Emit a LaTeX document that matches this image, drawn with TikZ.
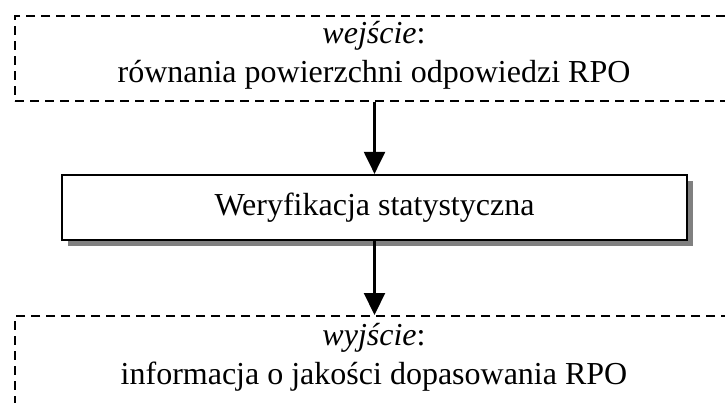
\documentclass[tikz,border=0pt]{standalone}
\usepackage{fontspec}
\setmainfont{Liberation Serif}
\usetikzlibrary{arrows.meta,shadows}
\begin{document}
\begin{tikzpicture}[x=1pt,y=-1pt,
  iobox/.style={draw=black, line width=2.2pt, dash pattern=on 9pt off 6pt,
    rectangle, inner sep=0pt, anchor=north west},
  procbox/.style={draw=black, line width=2.2pt, fill=white, rectangle,
    inner sep=0pt, minimum width=625pt, minimum height=65pt,
    drop shadow={shadow xshift=6pt, shadow yshift=-6pt, fill=black!50, opacity=1}},
  label/.style={anchor=base, inner sep=0pt, font=\fontsize{32}{39}\selectfont},
  arr/.style={line width=2.2pt, -{Triangle[width=21pt,length=22pt]}}]
  \useasboundingbox (0,0) rectangle (725,403);
  \clip (0,0) rectangle (725,403);

  % input and output frames (open beyond the page edge)
  \node[iobox, minimum width=740pt, minimum height=85pt] (in) at (14,15) {};
  \node[iobox, minimum width=740pt, minimum height=120pt] (out) at (14,315) {};

  % processing step
  \node[procbox] (proc) at (374.5,207.5) {};
  \node[label] (proct) at (374.5,216) {Weryfikacja statystyczna};

  % texts of the frames
  \node[label] (int1) at (374,44) {\textit{wejście}:};
  \node[label] (int2) at (374,83) {równania powierzchni odpowiedzi RPO};
  \node[label] (outt1) at (374,345) {\textit{wyjście}:};
  \node[label] (outt2) at (374,384) {informacja o jakości dopasowania RPO};

  % flow
  \draw[arr] (in.south -| proc.north) -- (proc.north);
  \draw[arr] (proc.south) -- (proc.south |- out.north);
\end{tikzpicture}
\end{document}
